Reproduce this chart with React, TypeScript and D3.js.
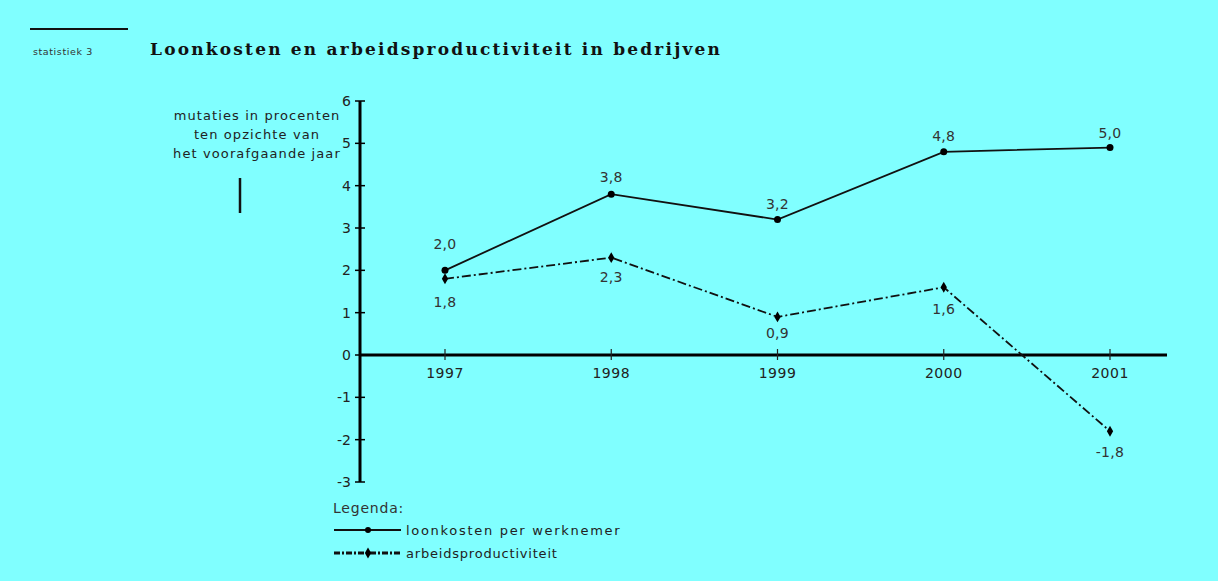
import React, { useRef, useEffect } from "react";
import * as d3 from "d3";

const years = ["1997", "1998", "1999", "2000", "2001"];
const loonkosten = [2.0, 3.8, 3.2, 4.8, 4.9];
const loonkostenLabels = ["2,0", "3,8", "3,2", "4,8", "5,0"];
const productiviteit = [1.8, 2.3, 0.9, 1.6, -1.8];
const productiviteitLabels = ["1,8", "2,3", "0,9", "1,6", "-1,8"];
const yTicks = [6, 5, 4, 3, 2, 1, 0, -1, -2, -3];

// label offsets (px) relative to the point
const loonDy = [-21, -12, -11, -11, -10];
const prodDy = [28, 24, 21, 27, 26];

const W = 1218;
const H = 581;
const BG = "#80ffff";
const SANS = "DejaVu Sans, Verdana, sans-serif";
const DASH = "9,3,2,3";

const App = () => {
  const ref = useRef<SVGSVGElement>(null);

  useEffect(() => {
    const svg = d3.select(ref.current);
    svg.selectAll("*").remove();

    svg.append("rect").attr("width", W).attr("height", H).attr("fill", BG);

    const txt = (x: number, y: number, s: string, size: number, ls: number, anchor = "start") =>
      svg.append("text").attr("x", x).attr("y", y).attr("text-anchor", anchor)
        .attr("font-family", SANS).attr("font-size", size).attr("letter-spacing", ls)
        .attr("fill", "#222").text(s);

    // header
    svg.append("line").attr("x1", 30).attr("x2", 128).attr("y1", 29).attr("y2", 29)
      .attr("stroke", "#111").attr("stroke-width", 2);
    txt(33, 55, "statistiek 3", 9.5, 0.6).attr("fill", "#333");
    svg.append("text").attr("x", 150).attr("y", 55)
      .attr("font-family", "DejaVu Serif, Georgia, serif")
      .attr("font-weight", "bold").attr("font-size", 17).attr("letter-spacing", 2.2)
      .attr("fill", "#111").text("Loonkosten en arbeidsproductiviteit in bedrijven");

    // y-axis title
    ["mutaties in procenten", "ten opzichte van", "het voorafgaande jaar"].forEach((t, i) => {
      txt(257, 120 + i * 19, t, 13, 1.1, "middle");
    });
    svg.append("line").attr("x1", 240).attr("x2", 240).attr("y1", 178).attr("y2", 213)
      .attr("stroke", "#111").attr("stroke-width", 2.5);

    const x = d3.scalePoint().domain(years).range([445, 1110]);
    const y = d3.scaleLinear().domain([-3, 6]).range([482, 101]);
    const x0 = 360;

    // y axis
    svg.append("line").attr("x1", x0).attr("x2", x0).attr("y1", y(6)).attr("y2", y(-3))
      .attr("stroke", "#000").attr("stroke-width", 3);
    yTicks.forEach((v) => {
      svg.append("line").attr("x1", x0 - 5).attr("x2", x0 + 5).attr("y1", y(v)).attr("y2", y(v))
        .attr("stroke", "#000").attr("stroke-width", 1.5);
      txt(x0 - 9, y(v) + 5, String(v), 14, 0, "end");
    });

    // x axis
    svg.append("line").attr("x1", x0).attr("x2", 1167).attr("y1", y(0)).attr("y2", y(0))
      .attr("stroke", "#000").attr("stroke-width", 3);
    years.forEach((yr) => {
      svg.append("line").attr("x1", x(yr)).attr("x2", x(yr)).attr("y1", y(0) - 6).attr("y2", y(0) + 5)
        .attr("stroke", "#222").attr("stroke-width", 1.2);
      txt(x(yr)!, y(0) + 23, yr, 14, 0.5, "middle");
    });

    const line = d3.line<number>().x((_, i) => x(years[i])!).y((d) => y(d));

    svg.append("path").datum(loonkosten).attr("d", line).attr("fill", "none")
      .attr("stroke", "#111").attr("stroke-width", 1.8);
    svg.append("path").datum(productiviteit).attr("d", line).attr("fill", "none")
      .attr("stroke", "#111").attr("stroke-width", 1.8).attr("stroke-dasharray", DASH);

    loonkosten.forEach((v, i) => {
      svg.append("circle").attr("cx", x(years[i])!).attr("cy", y(v)).attr("r", 3.5).attr("fill", "#000");
      txt(x(years[i])!, y(v) + loonDy[i], loonkostenLabels[i], 14, 0.3, "middle").attr("fill", "#333");
    });
    const diamond = d3.symbol().type(d3.symbolDiamond).size(34);
    productiviteit.forEach((v, i) => {
      svg.append("path").attr("d", diamond()).attr("transform", `translate(${x(years[i])},${y(v)})`)
        .attr("fill", "#000");
      txt(x(years[i])!, y(v) + prodDy[i], productiviteitLabels[i], 14, 0.3, "middle").attr("fill", "#333");
    });

    // legend
    txt(333, 513, "Legenda:", 14, 0.8).attr("fill", "#333");
    svg.append("line").attr("x1", 334).attr("x2", 401).attr("y1", 530).attr("y2", 530)
      .attr("stroke", "#111").attr("stroke-width", 2);
    svg.append("circle").attr("cx", 368).attr("cy", 530).attr("r", 3).attr("fill", "#000");
    txt(406, 535, "loonkosten per werknemer", 13, 1.7);
    svg.append("line").attr("x1", 334).attr("x2", 401).attr("y1", 553).attr("y2", 553)
      .attr("stroke", "#111").attr("stroke-width", 3).attr("stroke-dasharray", "6,2,2,2");
    svg.append("path").attr("d", diamond()).attr("transform", "translate(368,553)").attr("fill", "#000");
    txt(406, 558, "arbeidsproductiviteit", 13, 0.8);
  }, []);

  return (
    <svg
      ref={ref}
      width={W}
      height={H}
      style={{ position: "absolute", left: 0, top: 0, display: "block" }}
    />
  );
};

export default App;
